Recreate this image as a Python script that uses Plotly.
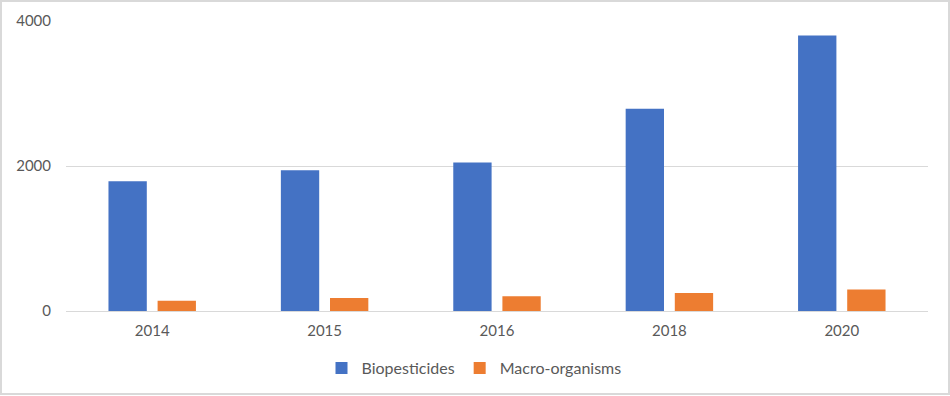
import plotly.graph_objects as go

years = ["2014", "2015", "2016", "2018", "2020"]
biopesticides = [1790, 1940, 2050, 2790, 3800]
macro_organisms = [140, 180, 205, 250, 295]
y_ticks = [0, 2000, 4000]

W, H = 950, 396
L, R, T, B = 66, 22, 21, 85
pw, ph = W - L - R, H - T - B

fig = go.Figure()
fig.add_trace(go.Bar(name="Biopesticides", x=years, y=biopesticides,
                     marker=dict(color="#4472C4", line=dict(width=0))))
fig.add_trace(go.Bar(name="Macro-organisms", x=years, y=macro_organisms,
                     marker=dict(color="#ED7D31", line=dict(width=0))))

font_fam = "Lato, 'Open Sans', sans-serif"
fig.update_layout(
    width=W, height=H,
    margin=dict(l=L, r=R, t=T, b=B, autoexpand=False),
    paper_bgcolor="white", plot_bgcolor="white",
    barmode="group", bargap=0.43, bargroupgap=0.22,
    font=dict(family=font_fam, size=15, color="#595959"),
    showlegend=True,
    legend=dict(orientation="h", xref="paper", yref="paper",
                x=(474 - L) / pw, xanchor="center",
                y=(ph + T - 368) / ph, yanchor="middle",
                font=dict(size=16, color="#595959"),
                itemwidth=30, traceorder="normal"),
    xaxis=dict(showgrid=False, showline=True, linecolor="#d9d9d9", linewidth=1,
               ticks="", ticklabelstandoff=6, tickfont=dict(size=15, color="#595959")),
    yaxis=dict(range=[0, 4000], tickvals=y_ticks, showgrid=True, gridcolor="#d9d9d9",
               gridwidth=1, zeroline=False, showline=False, ticks="",
               ticklabelstandoff=14, tickfont=dict(size=15, color="#595959")),
    shapes=[dict(type="rect", xref="paper", yref="paper",
                 x0=(1 - L) / pw, x1=(949 - L) / pw,
                 y0=(ph + T - 394) / ph, y1=(ph + T - 1) / ph,
                 line=dict(color="#d9d9d9", width=2), fillcolor="rgba(0,0,0,0)",
                 layer="below")],
)

fig.write_html("out.html", config={"displayModeBar": False},
               post_script="document.body.style.margin='0';")
